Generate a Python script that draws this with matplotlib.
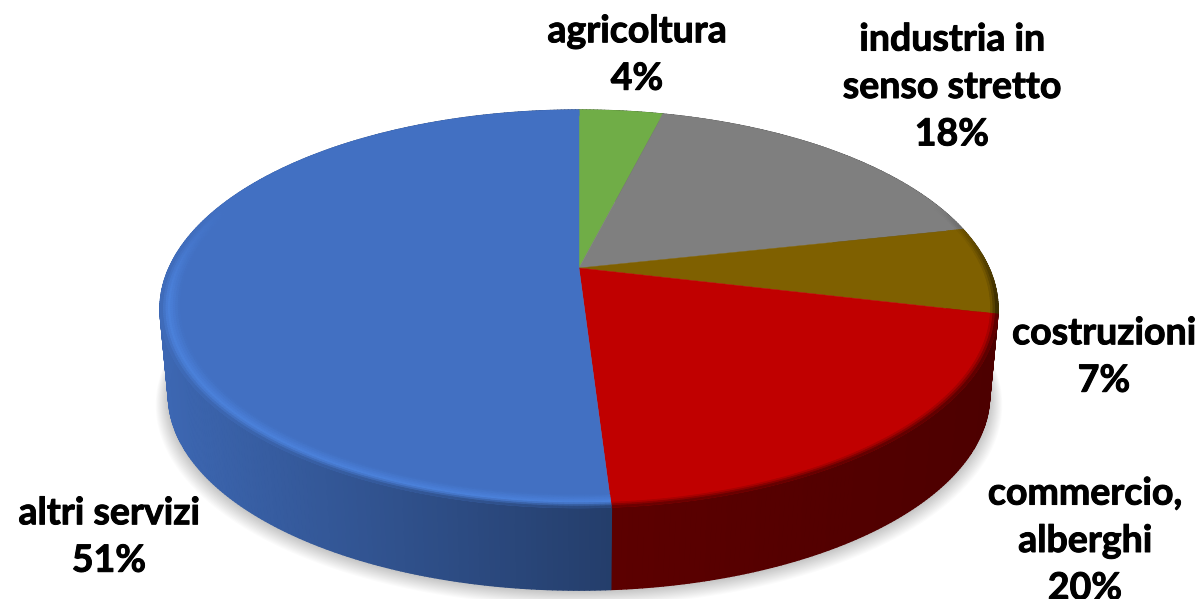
import matplotlib
matplotlib.use('Agg')

import matplotlib.patheffects as pe
import matplotlib.pyplot as plt
import numpy as np
from matplotlib.collections import PolyCollection
from matplotlib.patches import Polygon

plt.rcParams['font.family'] = ['Lato', 'DejaVu Sans']

categories = ["agricoltura", "industria in\nsenso stretto", "costruzioni",
              "commercio,\nalberghi", "altri servizi"]
shares = [3.95, 17.65, 7.1, 20.3, 51.0]
colors = ["#70ad47", "#7f7f7f", "#7f6000", "#c00000", "#4270c2"]
rim_colors = ["#70ad47", "#7f7f7f", "#7f6000", "#c00000", "#4c82dc"]
label_pos = [(637, 55), (952, 87), (1104, 357), (1085, 541), (109, 537)]

# perspective disc, pixel units
CX, CY = 579, 268
A, B, K = 190.5, 410, 0.206
DEPTH, SHRINK = 87, 0.98
BEVEL = 0.955


def project(r, th):
    u, v = r * np.sin(th), r * np.cos(th)
    return CX + B * u / (1 + K * v), CY - A * v / (1 + K * v)


def lower(x, y):
    return CX + (x - CX) * SHRINK, CY + (y - CY) * SHRINK + DEPTH


def rgb(c):
    return np.array(matplotlib.colors.to_rgb(c))


def shade(x):
    return np.interp(x, [160, 300, 611, 612, 1000], [0.92, 0.8, 0.55, 0.48, 0.4])


fig = plt.figure(figsize=(12, 5.99), dpi=100)
ax = fig.add_axes([0, 0, 1, 1])
ax.set_xlim(0, 1200)
ax.set_ylim(599, 0)
ax.axis('off')

# soft shadow under the disc
ring = np.linspace(0, 2 * np.pi, 361)
for i in range(14, 0, -1):
    sx, sy = lower(*project(1.0, ring))
    sx = CX + (sx - CX) * (1 + 0.0022 * i)
    sy = CY + (sy - CY) * (1 + 0.0022 * i) + 1 + 0.35 * i
    ax.add_patch(Polygon(np.c_[sx, sy], fc='#000000', ec='none', alpha=0.014, zorder=1))

edges = np.cumsum([0] + shares) / sum(shares) * 2 * np.pi

for i, share in enumerate(shares):
    th = np.linspace(edges[i], edges[i + 1], max(int(share * 6), 8) + 1)
    base = rgb(colors[i])
    rim = rgb(rim_colors[i])

    # side wall, shaded left to right
    x1, y1 = project(1.0, th)
    x2, y2 = lower(x1, y1)
    mid = (x1[:-1] + x1[1:]) / 2
    wall = [base * shade(m) for m in mid]
    # solid backing so the strips leave no seams
    ax.add_patch(Polygon(np.c_[np.r_[x1, x2[::-1]], np.r_[y1, y2[::-1]]],
                         fc=base * shade(mid.mean()), ec='none', zorder=2))
    quads = [[(x1[j], y1[j]), (x1[j + 1], y1[j + 1]), (x2[j + 1], y2[j + 1]), (x2[j], y2[j])]
             for j in range(len(th) - 1)]
    ax.add_collection(PolyCollection(quads, facecolors=wall, edgecolors=wall, linewidths=1.0, zorder=2))

    # flat top
    tx, ty = project(1.0, th)
    ax.add_patch(Polygon(np.c_[np.r_[CX, tx], np.r_[CY, ty]], fc=colors[i], ec=colors[i], lw=0.3, zorder=3))

    # bevel along the front rim
    rs = np.linspace(BEVEL, 1.0, 9)
    quads, cols = [], []
    for a in range(len(rs) - 1):
        t = (a + 0.5) / (len(rs) - 1)
        for j in range(len(th) - 1):
            p1, p2 = project(rs[a], th[j]), project(rs[a], th[j + 1])
            p3, p4 = project(rs[a + 1], th[j + 1]), project(rs[a + 1], th[j])
            tm = (th[j] + th[j + 1]) / 2
            w = np.clip((0.35 - np.cos(tm)) / 0.5, 0, 1)
            wall_c = base * shade(project(1.0, tm)[0])
            if t < 0.6:
                c = base + (rim - base) * t / 0.6
            else:
                c = rim + (wall_c - rim) * (t - 0.6) / 0.4
            quads.append([p1, p2, p3, p4])
            cols.append(base + (c - base) * w)
    ax.add_collection(PolyCollection(quads, facecolors=cols, edgecolors=cols, linewidths=0.6, zorder=4))

for cat, share, (lx, ly) in zip(categories, shares, label_pos):
    ax.text(lx, ly, f"{cat}\n{share:.0f}%", ha='center', va='center', fontsize=27,
            fontweight='bold', color='black', linespacing=1.48, zorder=5,
            path_effects=[pe.withStroke(linewidth=0.7, foreground='black')])

fig.savefig('out.png', dpi=100)
plt.close(fig)
